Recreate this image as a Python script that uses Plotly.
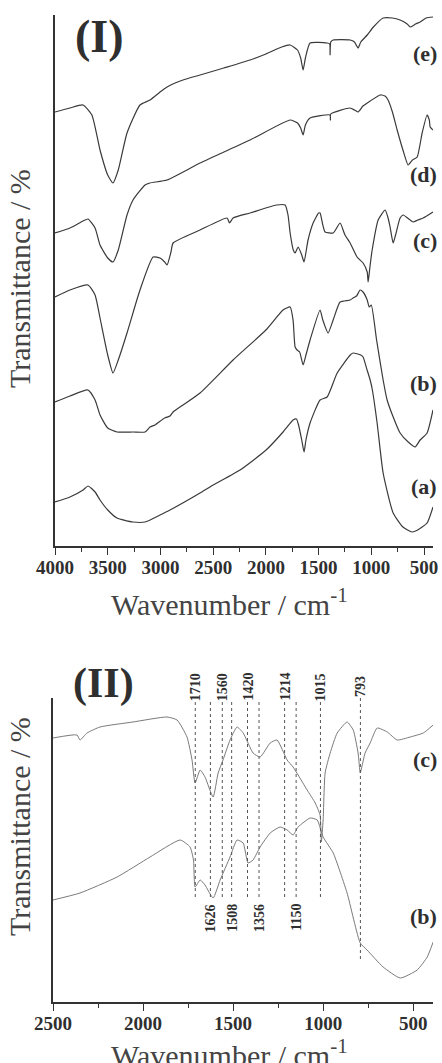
import plotly.graph_objects as go

W, H = 442, 1063

# ---------------- Panel (I): full-range FTIR spectra (arbitrary offset transmittance) ----------------
wn_e = [4000, 3858, 3734, 3650, 3573, 3500, 3450, 3400, 3317, 3194, 3099, 3004, 2937, 2786, 2624, 2400,
        2150, 2000, 1850, 1770, 1700, 1670, 1647, 1625, 1581, 1420, 1395, 1391, 1385, 1362, 1201, 1160,
        1125, 1100, 1039, 980, 888, 800, 727, 660, 632, 580, 537, 480, 415]
t_e = [434, 438, 441, 431, 396, 371, 363, 376, 413, 441, 446, 454, 459, 466, 471, 478,
       486, 492, 499, 501, 496, 488, 476, 488, 503, 503, 502, 491, 504, 506, 506, 504,
       498, 504, 511, 519, 528, 528, 526, 522, 519, 522, 524, 528, 529]

wn_d = [4000, 3858, 3734, 3687, 3620, 3573, 3500, 3450, 3400, 3317, 3260, 3146, 3099, 2937, 2624, 2150,
        1770, 1700, 1670, 1647, 1625, 1581, 1391, 1388, 1385, 1201, 1160, 1125, 1080, 1039, 916, 870,
        841, 800, 755, 700, 651, 610, 565, 518, 471, 450, 442, 415]
t_d = [313, 318, 325, 327, 318, 301, 288, 284, 296, 331, 346, 361, 363, 366, 383, 406,
       426, 423, 418, 411, 421, 428, 431, 426, 432, 438, 436, 434, 440, 443, 451, 450,
       446, 434, 416, 396, 381, 386, 389, 413, 431, 426, 419, 416]

wn_c = [4000, 3858, 3687, 3620, 3573, 3500, 3450, 3400, 3317, 3194, 3070, 3004, 2960, 2937, 2900, 2880,
        2624, 2368, 2345, 2311, 2150, 1900, 1818, 1790, 1770, 1740, 1723, 1694, 1660, 1638, 1600, 1552,
        1500, 1486, 1460, 1438, 1362, 1296, 1250, 1201, 1135, 1078, 1039, 1030, 1011, 992, 935, 869,
        841, 822, 793, 770, 727, 698, 603, 560, 508, 415]
t_c = [249, 256, 261, 251, 228, 191, 173, 186, 213, 256, 289, 288, 284, 281, 294, 303,
       316, 328, 323, 328, 333, 341, 341, 331, 313, 296, 293, 299, 291, 284, 306, 323,
       333, 333, 321, 314, 313, 323, 311, 303, 289, 283, 274, 264, 281, 296, 326, 336,
       328, 319, 303, 311, 328, 331, 324, 326, 328, 334]

wn_b = [4000, 3858, 3687, 3620, 3573, 3500, 3412, 3260, 3146, 3099, 3051, 2960, 2909, 2880, 2786, 2624,
        2311, 2000, 1837, 1770, 1742, 1723, 1704, 1680, 1647, 1620, 1581, 1486, 1460, 1410, 1362, 1296,
        1201, 1173, 1140, 1106, 1078, 1039, 1020, 1000, 950, 888, 850, 800, 727, 650, 584, 537, 471, 415]
t_b = [144, 150, 156, 146, 131, 118, 114, 114, 114, 119, 121, 128, 130, 134, 141, 153,
       186, 216, 236, 239, 226, 199, 196, 194, 181, 191, 206, 236, 226, 213, 226, 244,
       246, 248, 250, 256, 254, 246, 239, 241, 206, 166, 146, 131, 113, 104, 99, 106, 113, 136]

wn_a = [4000, 3858, 3734, 3687, 3620, 3573, 3500, 3412, 3260, 3146, 3004, 2909, 2624, 2500, 2245, 1998,
        1837, 1742, 1710, 1690, 1660, 1638, 1620, 1581, 1486, 1419, 1324, 1200, 1173, 1100, 1078, 1040,
        1011, 990, 945, 888, 793, 700, 613, 560, 471, 415]
t_a = [44, 49, 56, 60, 54, 46, 36, 28, 24, 24, 31, 36, 53, 61, 76, 96,
       114, 126, 127, 121, 106, 94, 106, 123, 146, 149, 173, 191, 193, 191, 189, 176,
       166, 156, 123, 73, 33, 19, 14, 16, 23, 39]

# ---------------- Panel (II): expanded 2500-400 cm-1 region ----------------
wn2_c = [2500, 2367, 2350, 2311, 2239, 2056, 1867, 1811, 1756, 1728, 1711, 1683, 1656, 1611, 1583, 1556,
         1517, 1478, 1444, 1389, 1350, 1294, 1256, 1200, 1167, 1139, 1089, 1044, 1017, 1010, 1000, 989,
         961, 922, 867, 833, 806, 794, 789, 767, 739, 700, 644, 589, 517, 444, 389]
t2_c = [264, 267, 262, 269, 275, 280, 285, 282, 265, 242, 219, 232, 225, 205, 229, 242,
        262, 275, 269, 249, 245, 259, 262, 242, 235, 227, 212, 199, 187, 160, 182, 229,
        249, 269, 280, 272, 249, 229, 232, 249, 259, 274, 270, 262, 265, 269, 277]

wn2_b = [2500, 2350, 2144, 1961, 1794, 1739, 1720, 1711, 1683, 1656, 1611, 1572, 1517, 1478, 1444, 1417,
         1389, 1350, 1294, 1239, 1200, 1167, 1139, 1072, 1033, 1000, 944, 867, 794, 756, 667, 572,
         478, 422, 389]
t2_b = [102, 109, 125, 145, 162, 155, 142, 115, 122, 117, 104, 122, 145, 162, 159, 139,
        142, 155, 169, 175, 172, 167, 175, 184, 182, 165, 149, 109, 59, 52, 35, 24,
        32, 45, 60]

peaks_above = ["1710", "1560", "1420", "1214", "1015", "793"]
peaks_below = ["1626", "1508", "1356", "1150"]

ticks_I = [4000, 3500, 3000, 2500, 2000, 1500, 1000, 500]
ticks_II = [2500, 2000, 1500, 1000, 500]

series_I = [(wn_a, t_a, "(a)"), (wn_b, t_b, "(b)"), (wn_c, t_c, "(c)"), (wn_d, t_d, "(d)"), (wn_e, t_e, "(e)")]
series_II = [(wn2_b, t2_b, "(b)"), (wn2_c, t2_c, "(c)")]


def px(x):
    return x / W


def py(y):
    return 1 - y / H


FONT = "Liberation Serif"
TXT = "#2f2f2f"

fig = go.Figure()
for wn, t, name in series_I:
    fig.add_trace(go.Scatter(x=wn, y=t, mode="lines", name=name, xaxis="x", yaxis="y",
                             line=dict(color="#3a3a3a", width=1.2, shape="spline", smoothing=0.5),
                             showlegend=False))
for wn, t, name in series_II:
    fig.add_trace(go.Scatter(x=wn, y=t, mode="lines", name=name, xaxis="x2", yaxis="y2",
                             line=dict(color="#7a7a7a", width=1.0, shape="spline", smoothing=0.5),
                             showlegend=False))

axis_common = dict(showline=True, linecolor="#333", linewidth=1.6, showgrid=False, zeroline=False,
                   automargin=False)
tickfont = dict(family=FONT, size=19, color=TXT, weight="bold")

fig.update_layout(
    width=W, height=H, margin=dict(l=0, r=0, t=0, b=0, pad=0, autoexpand=False),
    paper_bgcolor="white", plot_bgcolor="white",
    xaxis=dict(domain=[px(55), px(433)], anchor="y", range=[4000, 415], tickvals=ticks_I,
               ticks="outside", ticklen=7, tickwidth=1.4, tickcolor="#333", tickfont=tickfont,
               ticklabelstandoff=-4,
               minor=dict(dtick=250, tick0=0, ticks="outside", ticklen=4, tickwidth=1.2, tickcolor="#333"),
               **axis_common),
    yaxis=dict(domain=[py(546), py(15)], anchor="x", range=[0, 531], showticklabels=False, ticks="",
               **axis_common),
    xaxis2=dict(domain=[px(53), px(433)], anchor="y2", range=[2500, 390], tickvals=ticks_II,
                ticks="outside", ticklen=7, tickwidth=1.4, tickcolor="#333", tickfont=tickfont,
                ticklabelstandoff=-4,
                minor=dict(dtick=250, tick0=0, ticks="outside", ticklen=4, tickwidth=1.2, tickcolor="#333"),
                **axis_common),
    yaxis2=dict(domain=[py(1002), py(698)], anchor="x2", range=[0, 304], showticklabels=False, ticks="",
                **axis_common),
)

ann = []
# panel titles
ann.append(dict(text="<b>(I)</b>", x=px(99), y=py(37), font=dict(family=FONT, size=46, color=TXT)))
ann.append(dict(text="<b>(II)</b>", x=px(103), y=py(683), font=dict(family=FONT, size=42, color=TXT)))
# axis titles
for yc in (279, 827):
    ann.append(dict(text="Transmittance / %", x=px(19), y=py(yc), textangle=-90,
                    font=dict(family=FONT, size=30, color="#444")))
for yc in (602, 1053):
    ann.append(dict(text="Wavenumber / cm<sup>-1</sup>", x=px(229), y=py(yc),
                    font=dict(family=FONT, size=30, color="#444")))
# series labels
lab_I = {"(e)": 53, "(d)": 175, "(c)": 240, "(b)": 383, "(a)": 487}
for k, yc in lab_I.items():
    ann.append(dict(text="<b>%s</b>" % k, x=px(438), y=py(yc), xanchor="right",
                    font=dict(family=FONT, size=22, color=TXT)))
lab_II = {"(c)": 759, "(b)": 916}
for k, yc in lab_II.items():
    ann.append(dict(text="<b>%s</b>" % k, x=px(438), y=py(yc), xanchor="right",
                    font=dict(family=FONT, size=22, color=TXT)))

shapes = []
for p in peaks_above:
    v = float(p)
    top, bot = (698, 960) if p == "793" else (702, 900)
    shapes.append(dict(type="line", xref="x2", yref="paper", x0=v, x1=v, y0=py(top), y1=py(bot),
                       line=dict(color="#555", width=1, dash="3px,3px")))
    ann.append(dict(text="<b>%s</b>" % p, x=v, xref="x2", y=py(top), yref="paper", yanchor="bottom",
                    textangle=-90, font=dict(family=FONT, size=14, color=TXT)))
for p in peaks_below:
    v = float(p)
    shapes.append(dict(type="line", xref="x2", yref="paper", x0=v, x1=v, y0=py(702), y1=py(900),
                       line=dict(color="#555", width=1, dash="3px,3px")))
    ann.append(dict(text="<b>%s</b>" % p, x=v, xref="x2", y=py(903), yref="paper", yanchor="top",
                    textangle=-90, font=dict(family=FONT, size=14, color=TXT)))

for a in ann:
    a.setdefault("xref", "paper")
    a.setdefault("yref", "paper")
    a.setdefault("xanchor", "center")
    a.setdefault("yanchor", "middle")
    a.setdefault("showarrow", False)
    a.setdefault("borderpad", 0)

fig.update_layout(annotations=ann, shapes=shapes)
fig.write_html("out.html")
